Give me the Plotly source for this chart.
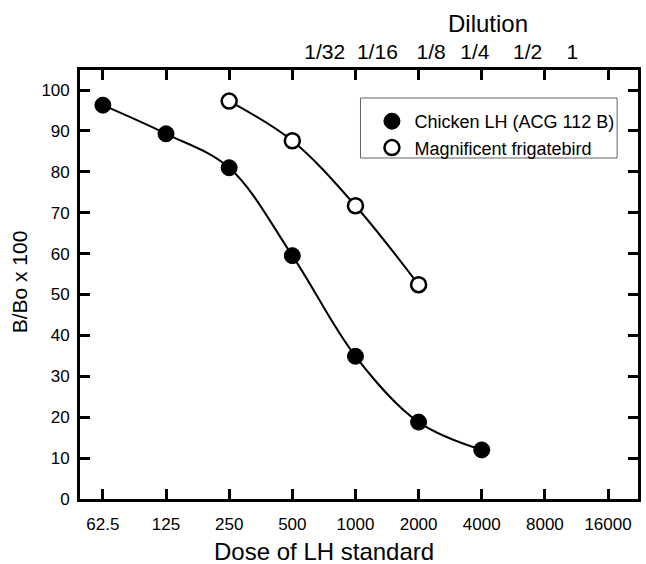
import plotly.graph_objects as go

# ---- data ----
dose_ticks = [62.5, 125, 250, 500, 1000, 2000, 4000, 8000, 16000]
dose_tick_labels = ["62.5", "125", "250", "500", "1000", "2000", "4000", "8000", "16000"]

chicken_dose = [62.5, 125, 250, 500, 1000, 2000, 4000]
chicken_b = [96.3, 89.3, 81.0, 59.5, 34.9, 18.8, 12.0]

frigate_dose = [250, 500, 1000, 2000]
frigate_b = [97.3, 87.6, 71.7, 52.4]

dilution_labels = ["1/32", "1/16", "1/8", "1/4", "1/2", "1"]
dilution_pos = [713, 1272, 2295, 3709, 6614, 10812]

y_ticks = [0, 10, 20, 30, 40, 50, 60, 70, 80, 90, 100]

series_names = ["Chicken LH (ACG 112 B)", "Magnificent frigatebird"]

FONT = "Liberation Sans, Arial, sans-serif"
x_range = [1.6868, 4.3469]
y_range = [0, 104.9]

# plot-area pixel geometry (for paper-coordinate placement of texts)
L, R, T, B = 80, 641, 70, 499
PW, PH = R - L, B - T


def px(x):
    return (x - L) / PW


def py(y):
    return (B - y) / PH


filled = dict(symbol="circle", size=16, color="black", line=dict(color="black", width=1))
hollow = dict(symbol="circle", size=15, color="white", line=dict(color="black", width=2.5))
line_style = dict(color="black", width=2, shape="spline", smoothing=1.0)

fig = go.Figure()

fig.add_trace(go.Scatter(x=chicken_dose, y=chicken_b, mode="lines+markers",
                         name=series_names[0], line=line_style, marker=filled,
                         showlegend=False))
fig.add_trace(go.Scatter(x=frigate_dose, y=frigate_b, mode="lines+markers",
                         name=series_names[1], line=line_style, marker=hollow,
                         showlegend=False))
# legend entries (markers only, as in the reference)
fig.add_trace(go.Scatter(x=[None], y=[None], mode="markers", name=series_names[0],
                         marker=filled, hoverinfo="skip"))
fig.add_trace(go.Scatter(x=[None], y=[None], mode="markers", name=series_names[1],
                         marker=hollow, hoverinfo="skip"))
# invisible trace to activate the top axis
fig.add_trace(go.Scatter(x=dilution_pos, y=[None] * len(dilution_pos), xaxis="x2",
                         showlegend=False, hoverinfo="skip", mode="markers"))

fig.update_layout(
    width=646, height=564,
    margin=dict(l=L, r=646 - R, t=T, b=564 - B),
    paper_bgcolor="white", plot_bgcolor="white",
    font=dict(family=FONT, color="black", size=17),
    showlegend=True,
    legend=dict(
        x=px(371), y=py(103), xanchor="left", yanchor="top",
        bgcolor="rgba(0,0,0,0)", borderwidth=0,
        font=dict(family=FONT, size=18, color="black"),
        itemwidth=35, tracegroupgap=0,
    ),
    xaxis=dict(
        type="log", range=x_range,
        tickvals=dose_ticks, ticktext=dose_tick_labels,
        ticks="inside", ticklen=10, tickwidth=2.5, tickcolor="black",
        showline=True, linewidth=2.7, linecolor="black", mirror="ticks",
        showgrid=False, zeroline=False,
        tickfont=dict(family=FONT, size=17, color="black"),
        ticklabelstandoff=8,
    ),
    xaxis2=dict(
        type="log", range=x_range, overlaying="x", side="top",
        tickvals=dilution_pos, ticktext=dilution_labels,
        ticks="", showline=False, showgrid=False, zeroline=False,
        tickfont=dict(family=FONT, size=21, color="black"),
        ticklabelstandoff=6,
    ),
    yaxis=dict(
        range=y_range, tickvals=y_ticks,
        ticks="inside", ticklen=10, tickwidth=2.5, tickcolor="black",
        showline=True, linewidth=2.7, linecolor="black", mirror="ticks",
        showgrid=False, zeroline=False,
        tickfont=dict(family=FONT, size=17, color="black"),
        ticklabelstandoff=4,
    ),
    shapes=[
        dict(type="rect", xref="paper", yref="paper",
             x0=px(362), x1=px(620), y0=py(158), y1=py(98),
             line=dict(color="#666666", width=1), fillcolor="rgba(0,0,0,0)", layer="below"),
    ],
    annotations=[
        dict(text="Dose of LH standard", xref="paper", yref="paper",
             x=px(325), y=py(551), xanchor="center", yanchor="middle",
             showarrow=False, font=dict(family=FONT, size=24, color="black")),
        dict(text="B/Bo x 100", xref="paper", yref="paper",
             x=px(19), y=py(282), xanchor="center", yanchor="middle",
             textangle=-90, showarrow=False, font=dict(family=FONT, size=21, color="black")),
        dict(text="Dilution", xref="paper", yref="paper",
             x=px(490), y=py(23), xanchor="center", yanchor="middle",
             showarrow=False, font=dict(family=FONT, size=24, color="black")),
    ],
)

fig.write_html("out.html", config={"displayModeBar": False},
               post_script="document.body.style.margin='0';")
